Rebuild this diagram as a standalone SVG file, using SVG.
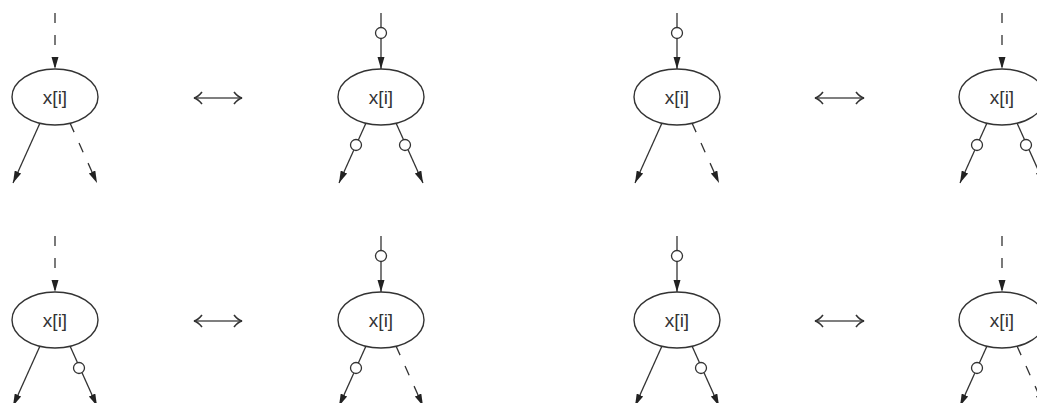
<svg xmlns="http://www.w3.org/2000/svg" width="1037" height="403" viewBox="0 0 1037 403">
<style>
.node ellipse{fill:#fff;stroke:#333;stroke-width:1.4}
.node text{font-family:"Liberation Sans",Arial,sans-serif;font-size:19px;fill:#333;text-anchor:middle}
.e{fill:none;stroke:#333;stroke-width:1.3;marker-end:url(#ah)}
.d{stroke-dasharray:10 12}
.c{fill:#fff;stroke:#333;stroke-width:1.3}
.dbl{fill:none;stroke:#555;stroke-width:1.3}
</style>
<defs>
<marker id="ah" viewBox="0 0 12 10" refX="12" refY="5" markerWidth="12" markerHeight="10" markerUnits="userSpaceOnUse" orient="auto">
<path d="M0,1.5 L12,5 L0,8.5 Z" fill="#222"/>
</marker>
<marker id="op" viewBox="0 0 10 14" refX="9" refY="7" markerWidth="10" markerHeight="14" markerUnits="userSpaceOnUse" orient="auto-start-reverse">
<path d="M1,1 Q5,6 9,7 Q5,8 1,13" fill="none" stroke="#333" stroke-width="1.6"/>
</marker>
</defs>
<rect width="1037" height="403" fill="#fff"/>
<g id="connectors">
<line class="e d" x1="55" y1="13" x2="55" y2="69"/>
<line class="e" x1="40" y1="123" x2="13" y2="183"/>
<line class="e d" x1="70" y1="123" x2="97" y2="183"/>
<line class="e" x1="381" y1="13" x2="381" y2="69"/>
<circle class="c" cx="381" cy="33" r="5.5"/>
<line class="e" x1="366" y1="123" x2="339" y2="183"/>
<circle class="c" cx="356" cy="145" r="5.5"/>
<line class="e" x1="396" y1="123" x2="423" y2="183"/>
<circle class="c" cx="405" cy="145" r="5.5"/>
<line class="e" x1="677" y1="13" x2="677" y2="69"/>
<circle class="c" cx="677" cy="33" r="5.5"/>
<line class="e" x1="662" y1="123" x2="635" y2="183"/>
<line class="e d" x1="692" y1="123" x2="719" y2="183"/>
<line class="e d" x1="1002" y1="13" x2="1002" y2="69"/>
<line class="e" x1="987" y1="123" x2="960" y2="183"/>
<circle class="c" cx="977" cy="145" r="5.5"/>
<line class="e" x1="1017" y1="123" x2="1044" y2="183"/>
<circle class="c" cx="1026" cy="145" r="5.5"/>
<line class="e d" x1="55" y1="236" x2="55" y2="292"/>
<line class="e" x1="40" y1="346" x2="13" y2="406"/>
<line class="e" x1="70" y1="346" x2="97" y2="406"/>
<circle class="c" cx="79" cy="368" r="5.5"/>
<line class="e" x1="381" y1="236" x2="381" y2="292"/>
<circle class="c" cx="381" cy="256" r="5.5"/>
<line class="e" x1="366" y1="346" x2="339" y2="406"/>
<circle class="c" cx="356" cy="368" r="5.5"/>
<line class="e d" x1="396" y1="346" x2="423" y2="406"/>
<line class="e" x1="677" y1="236" x2="677" y2="292"/>
<circle class="c" cx="677" cy="256" r="5.5"/>
<line class="e" x1="662" y1="346" x2="635" y2="406"/>
<line class="e" x1="692" y1="346" x2="719" y2="406"/>
<circle class="c" cx="701" cy="368" r="5.5"/>
<line class="e d" x1="1002" y1="236" x2="1002" y2="292"/>
<line class="e" x1="987" y1="346" x2="960" y2="406"/>
<circle class="c" cx="977" cy="368" r="5.5"/>
<line class="e d" x1="1017" y1="346" x2="1044" y2="406"/>
<line class="dbl" x1="194" y1="98" x2="242" y2="98" marker-start="url(#op)" marker-end="url(#op)"/>
<line class="dbl" x1="815" y1="98" x2="864" y2="98" marker-start="url(#op)" marker-end="url(#op)"/>
<line class="dbl" x1="194" y1="321" x2="242" y2="321" marker-start="url(#op)" marker-end="url(#op)"/>
<line class="dbl" x1="815" y1="321" x2="864" y2="321" marker-start="url(#op)" marker-end="url(#op)"/>
</g>
<g id="n1a" class="node"><ellipse cx="55" cy="97" rx="43" ry="28"/><text x="55" y="104">x[i]</text></g>
<g id="n1b" class="node"><ellipse cx="381" cy="97" rx="43" ry="28"/><text x="381" y="104">x[i]</text></g>
<g id="n1c" class="node"><ellipse cx="677" cy="97" rx="43" ry="28"/><text x="677" y="104">x[i]</text></g>
<g id="n1d" class="node"><ellipse cx="1002" cy="97" rx="43" ry="28"/><text x="1002" y="104">x[i]</text></g>
<g id="n2a" class="node"><ellipse cx="55" cy="320" rx="43" ry="28"/><text x="55" y="327">x[i]</text></g>
<g id="n2b" class="node"><ellipse cx="381" cy="320" rx="43" ry="28"/><text x="381" y="327">x[i]</text></g>
<g id="n2c" class="node"><ellipse cx="677" cy="320" rx="43" ry="28"/><text x="677" y="327">x[i]</text></g>
<g id="n2d" class="node"><ellipse cx="1002" cy="320" rx="43" ry="28"/><text x="1002" y="327">x[i]</text></g>
</svg>
